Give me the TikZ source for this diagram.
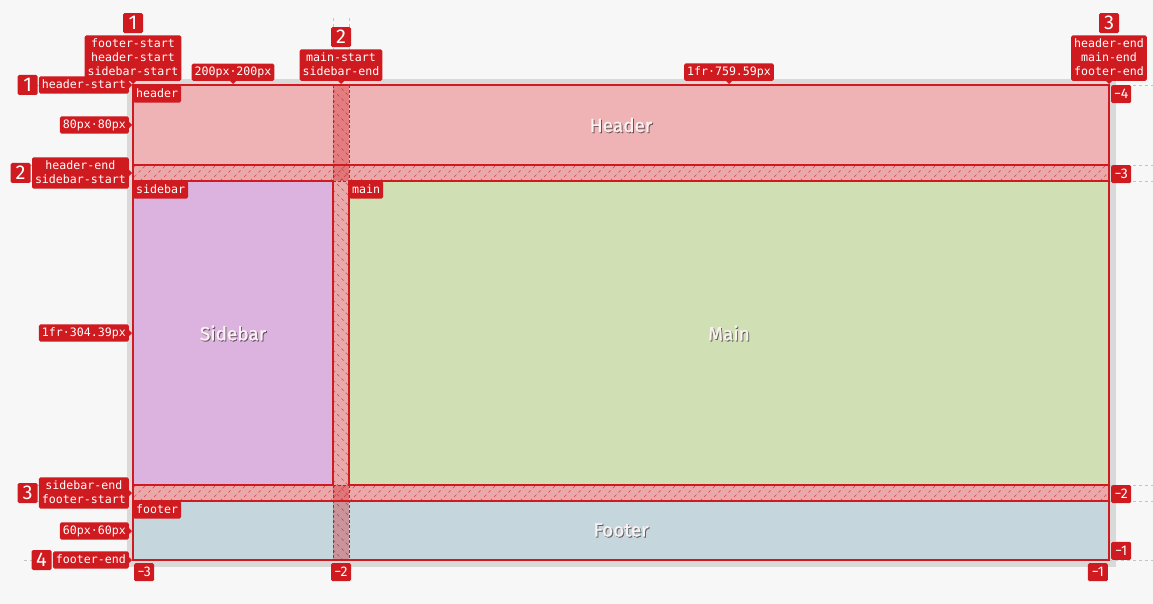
\documentclass[tikz,border=0pt]{standalone}
\usepackage{fontspec}
\usetikzlibrary{positioning}
\newfontfamily\tagfont{DejaVu Sans Mono}
\newfontfamily\labelfont{Fira Sans}
\newfontfamily\namefont{Fira Sans}[FakeBold=1.2]
\definecolor{gridred}{HTML}{CF1A1F}
\definecolor{pagebg}{HTML}{F7F7F7}
\definecolor{framegray}{HTML}{D9D9D9}
\definecolor{guidegray}{HTML}{C4C4C4}
\definecolor{headerfill}{HTML}{EFB3B5}
\definecolor{sidebarfill}{HTML}{DBB3DE}
\definecolor{mainfill}{HTML}{D0DFB4}
\definecolor{footerfill}{HTML}{C6D6DD}
\definecolor{namecolor}{HTML}{FBF0F2}

\begin{document}
\begin{tikzpicture}[
    x=1pt, y=-1pt,
    tag/.style={fill=gridred, text=white, font=\tagfont\fontsize{11.6}{14}\selectfont, inner xsep=3pt, inner ysep=3pt, text depth=2.5pt, rounded corners=1.5pt, align=center},
    num/.style={fill=gridred, text=white, font=\labelfont\fontsize{20}{20}\selectfont, minimum width=20pt, minimum height=20pt, inner sep=0pt, rounded corners=1.5pt},
    idx/.style={fill=gridred, text=white, font=\labelfont\fontsize{14}{14}\selectfont, minimum width=20pt, minimum height=18pt, inner sep=0pt, rounded corners=1.5pt},
    area/.style={draw=gridred, line width=1.8pt},
    gap/.style={fill=gridred, fill opacity=.35},
    hatch/.style={gridred, line width=.6pt, dash pattern=on 3pt off 3pt, opacity=.7},
    guide/.style={guidegray, line width=.6pt, dash pattern=on 3pt off 3pt},
    gapedge/.style={gridred, line width=.8pt, dash pattern=on 3pt off 2pt},
    areaname/.style={font=\namefont\fontsize{19}{20}\selectfont, text=namecolor},
    nameshadow/.style={font=\namefont\fontsize{19}{20}\selectfont, text=black, opacity=.45}
  ]

  % Page and grid frame
  \fill[pagebg] (0,0) rectangle (1153,604);
  \useasboundingbox (0,0) rectangle (1153,604);
  \fill[framegray] (127,79) rectangle (1116,567);
  \fill[pagebg] (133,85) rectangle (1109,560);

  % Guide lines
  \foreach \y in {85,165,181,485,501,560} {
    \draw[guide] (1109,\y) -- (1153,\y);
    \draw[guide] (24,\y) -- (133,\y);
  }
  \foreach \x in {333,349} \draw[guide] (\x,18) -- (\x,85);

  % Grid areas
  \fill[headerfill] (133,85) rectangle (1109,165);
  \fill[sidebarfill] (133,181) rectangle (333,485);
  \fill[mainfill] (349,181) rectangle (1109,485);
  \fill[footerfill] (133,501) rectangle (1109,560);

  % Gaps
  \fill[gap] (133,165) rectangle (1109,181);
  \fill[gap] (133,485) rectangle (1109,501);
  \fill[gap] (333,85) rectangle (349,560);
  \begin{scope}
    \clip (133,165) rectangle (1109,181) (133,485) rectangle (1109,501);
    \foreach \x in {120,130,...,1110} {
      \draw[hatch] (\x,181) -- ++(16,-16);
      \draw[hatch] (\x,501) -- ++(16,-16);
    }
  \end{scope}
  \begin{scope}
    \clip (333,85) rectangle (349,560);
    \foreach \y in {70,80,...,560} \draw[hatch] (333,\y) -- ++(16,16);
  \end{scope}

  % Area borders
  \draw[area] (133,85) rectangle (1109,560);
  \draw[area] (133,85) rectangle (1109,165);
  \draw[area] (133,181) rectangle (333,485);
  \draw[area] (349,181) rectangle (1109,485);
  \draw[area] (133,501) rectangle (1109,560);
  \foreach \x in {333,349} \draw[gapedge] (\x,85) -- (\x,560);
  \foreach \y in {181,485} \draw[gapedge] (333,\y) -- (349,\y);

  % Area names
  \node[nameshadow] (hshadow) at (622,126) {Header};
  \node[areaname] (hname) at (621,125) {Header};
  \node[nameshadow] (sshadow) at (234,334) {Sidebar};
  \node[areaname] (sname) at (233,333) {Sidebar};
  \node[nameshadow] (mshadow) at (730,334) {Main};
  \node[areaname] (mname) at (729,333) {Main};
  \node[nameshadow] (fshadow) at (622,531) {Footer};
  \node[areaname] (fname) at (621,530) {Footer};

  % Area tags
  \node[tag, anchor=north west] (theader) at (133,85) {header};
  \node[tag, anchor=north west] (tsidebar) at (133,181) {sidebar};
  \node[tag, anchor=north west] (tmain) at (349,181) {main};
  \node[tag, anchor=north west] (tfooter) at (133,501) {footer};

  % Column lines and widths
  \node[tag, anchor=south] (tcolA) at (133,81) {footer-start\\header-start\\sidebar-start};
  \node[num, above=2pt of tcolA] (ncolA) {1};
  \node[tag, anchor=south] (tw1) at (233,81) {200px·200px};
  \node[tag, anchor=south] (tcolB) at (341,81) {main-start\\sidebar-end};
  \node[num, above=2pt of tcolB] (ncolB) {2};
  \node[tag, anchor=south] (tw2) at (729,81) {1fr·759.59px};
  \node[tag, anchor=south] (tcolC) at (1109,81) {header-end\\main-end\\footer-end};
  \node[num, above=2pt of tcolC] (ncolC) {3};

  % Row lines and heights
  \node[tag, anchor=east] (trow1) at (129,85) {header-start};
  \node[num, left=1pt of trow1] (nrow1) {1};
  \node[tag, anchor=east] (th1) at (129,125) {80px·80px};
  \node[tag, anchor=east] (trow2) at (129,173) {header-end\\sidebar-start};
  \node[num, left=1pt of trow2] (nrow2) {2};
  \node[tag, anchor=east] (th2) at (129,333) {1fr·304.39px};
  \node[tag, anchor=east] (trow3) at (129,493) {sidebar-end\\footer-start};
  \node[num, left=1pt of trow3] (nrow3) {3};
  \node[tag, anchor=east] (th3) at (129,531) {60px·60px};
  \node[tag, anchor=east] (trow4) at (129,560) {footer-end};
  \node[num, left=1pt of trow4] (nrow4) {4};

  % Pointers
  \foreach \t in {tcolA,tw1,tcolB,tw2,tcolC}
    \fill[gridred] ([xshift=-3pt]\t.south) -- ([xshift=3pt]\t.south) -- ([yshift=-3pt]\t.south) -- cycle;
  \foreach \t in {trow1,th1,trow2,th2,trow3,th3,trow4}
    \fill[gridred] ([yshift=3pt]\t.east) -- ([yshift=-3pt]\t.east) -- ([xshift=3pt]\t.east) -- cycle;

  % Negative line numbers
  \node[idx, anchor=north west] (r4) at (1111,85) {−4};
  \node[idx, anchor=north west] (r3) at (1111,165) {−3};
  \node[idx, anchor=north west] (r2) at (1111,485) {−2};
  \node[idx, anchor=south west] (r1) at (1111,560) {−1};
  \node[idx, anchor=north west] (b3) at (134,563) {−3};
  \node[idx, anchor=north] (b2) at (341,563) {−2};
  \node[idx, anchor=north east] (b1) at (1108,563) {−1};

\end{tikzpicture}
\end{document}
